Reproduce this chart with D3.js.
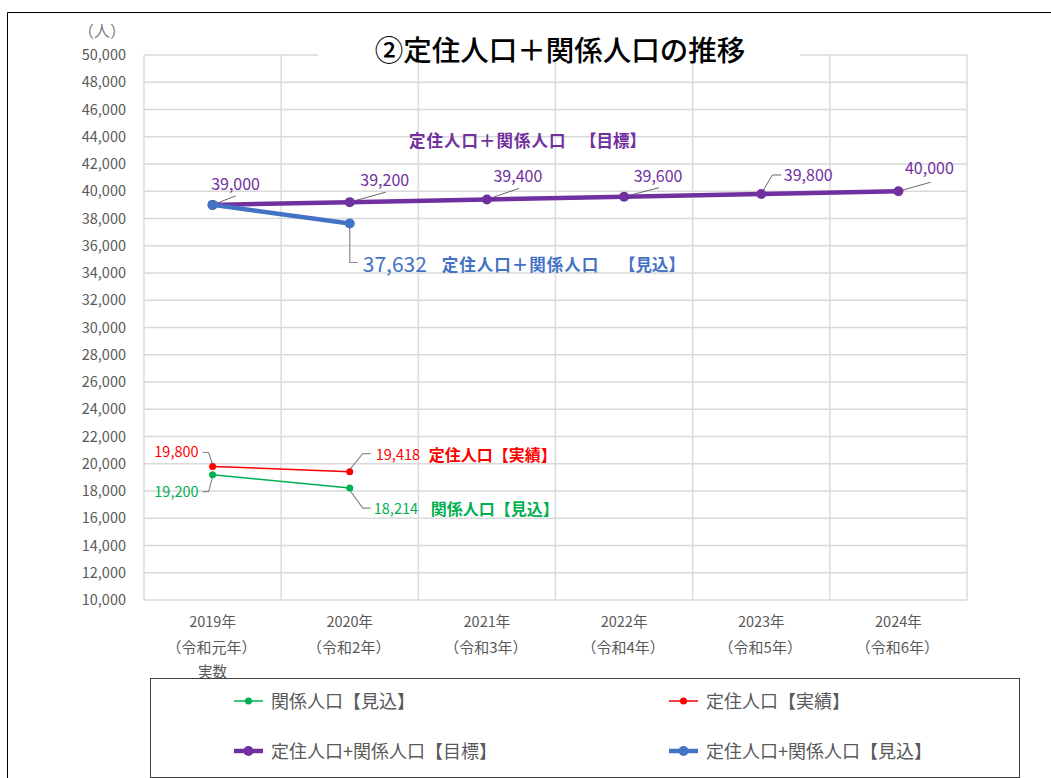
<!DOCTYPE html>
<html>
<head>
<meta charset="utf-8">
<script src="https://cdn.jsdelivr.net/npm/d3@7"></script>
<style>
  body { margin: 0; background: #fff; }
  svg { font-family: "Noto Sans CJK JP", "Noto Sans", sans-serif; }
</style>
</head>
<body>
<svg class="canvas"></svg>
<script>
// Data
const years = ["2019年", "2020年", "2021年", "2022年", "2023年", "2024年"];
const eras = ["（令和元年）", "（令和2年）", "（令和3年）", "（令和4年）", "（令和5年）", "（令和6年）"];
const notes = ["実数", "", "", "", "", ""];
const yTicks = [10000, 12000, 14000, 16000, 18000, 20000, 22000, 24000, 26000, 28000, 30000,
  32000, 34000, 36000, 38000, 40000, 42000, 44000, 46000, 48000, 50000];

const targetTotal = [39000, 39200, 39400, 39600, 39800, 40000];   // 定住人口+関係人口【目標】
const forecastTotal = [39000, 37632];                              // 定住人口+関係人口【見込】
const residentActual = [19800, 19418];                             // 定住人口【実績】
const relatedForecast = [19200, 18214];                            // 関係人口【見込】

const wWidth = 1051, wHeight = 778;
const plot = {left: 144, right: 967, top: 55, bottom: 600};

const svg = d3.select('.canvas').attr('width', wWidth).attr('height', wHeight);

// outer frame
svg.append('path').attr('d', `M7.5,${wHeight} V12.5 H${wWidth}`)
  .attr('fill', 'none').attr('stroke', '#000').attr('stroke-width', 1);

const x = d3.scaleBand().domain(years).range([plot.left, plot.right]);
const y = d3.scaleLinear().domain([10000, 50000]).range([plot.bottom, plot.top]);
const cx = i => x(years[i]) + x.bandwidth() / 2;

// gridlines
const grid = svg.append('g').attr('stroke', '#d9d9d9').attr('stroke-width', 1.4);
grid.selectAll('line.h').data(yTicks).enter().append('line')
  .attr('x1', plot.left).attr('x2', plot.right)
  .attr('y1', d => y(d)).attr('y2', d => y(d));
grid.selectAll('line.v').data(years.concat(['end'])).enter().append('line')
  .attr('x1', (d, i) => plot.left + i * x.bandwidth())
  .attr('x2', (d, i) => plot.left + i * x.bandwidth())
  .attr('y1', plot.top).attr('y2', plot.bottom);

// y axis labels
const yAxis = d3.axisLeft(y).tickValues(yTicks).tickFormat(d3.format(',')).tickSize(0).tickPadding(18);
const yAxisGroup = svg.append('g').attr('transform', `translate(${plot.left}, 0)`).call(yAxis);
yAxisGroup.select('.domain').remove();
yAxisGroup.selectAll('text').attr('fill', '#595959').style('font-size', '14.5px')
  .style('font-family', '"Noto Sans CJK JP", sans-serif');

svg.append('text').attr('x', 102).attr('y', 37).attr('text-anchor', 'middle')
  .attr('fill', '#808080').style('font-size', '16px').text('（人）');

// x axis labels
const xLab = svg.append('g').attr('fill', '#595959').style('font-size', '14.5px').attr('text-anchor', 'middle');
xLab.selectAll('text.yr').data(years).enter().append('text')
  .attr('x', (d, i) => cx(i)).attr('y', 627).text(d => d);
xLab.selectAll('text.era').data(eras).enter().append('text')
  .attr('x', (d, i) => cx(i) - 1).attr('y', 653).style('font-size', '15px').text(d => d);
xLab.selectAll('text.note').data(notes).enter().append('text')
  .attr('x', (d, i) => cx(i)).attr('y', 677).text(d => d);

// title
svg.append('rect').attr('x', 318).attr('y', 30).attr('width', 482).attr('height', 31).attr('fill', '#fff');
svg.append('text').attr('x', 560).attr('y', 61).attr('text-anchor', 'middle')
  .attr('fill', '#000').style('font-size', '28.5px').style('font-weight', 500)
  .text('②定住人口＋関係人口の推移');

// series
const line = d3.line().x((d, i) => cx(i)).y(d => y(d));
const series = [
  {data: targetTotal, color: '#7030a0', width: 4.5, r: 5},
  {data: forecastTotal, color: '#4472c4', width: 4.5, r: 5},
  {data: residentActual, color: '#ff0000', width: 1.5, r: 3.5},
  {data: relatedForecast, color: '#00b050', width: 1.5, r: 3.5}
];
const leaderG = svg.append('g').attr('fill', 'none');
series.forEach(s => {
  svg.append('path').attr('d', line(s.data)).attr('fill', 'none')
    .attr('stroke', s.color).attr('stroke-width', s.width);
  svg.selectAll(null).data(s.data).enter().append('circle')
    .attr('cx', (d, i) => cx(i)).attr('cy', d => y(d)).attr('r', s.r).attr('fill', s.color);
});

// purple data labels: text offset and leader points relative to the marker
const purpleOffsets = [
  {dx: 23, dy: -15, lead: [[0, 0], [23, -9]]},
  {dx: 35, dy: -16, lead: [[0, 0], [36, -10]]},
  {dx: 31, dy: -17, lead: [[0, 0], [32, -11]]},
  {dx: 34, dy: -15, lead: [[0, 0], [35, -9]]},
  {dx: 47, dy: -13, lead: [[0, 0], [11, -19], [20, -19]]},
  {dx: 31, dy: -17, lead: [[0, 0], [32, -9]]}
];
const fmt = d3.format(',');
targetTotal.forEach((v, i) => {
  const o = purpleOffsets[i], px = cx(i), py = y(v);
  leaderG.append('path').attr('d', d3.line()(o.lead.map(p => [px + p[0], py + p[1]])))
    .attr('stroke', '#404040').attr('stroke-width', 0.8);
  svg.append('text').attr('x', px + o.dx).attr('y', py + o.dy).attr('text-anchor', 'middle')
    .attr('fill', '#7030a0').style('font-size', '16px').text(fmt(v));
});

// other labels
const grey = '#8c8c8c';
function leader(pts, px, py) {
  leaderG.append('path').attr('d', d3.line()(pts.map(p => [px + p[0], py + p[1]])))
    .attr('stroke', grey).attr('stroke-width', 1.2);
}
function boldLabel(xPos, yPos, color, main, tag, tagX) {
  svg.append('text').attr('x', xPos).attr('y', yPos).attr('fill', color)
    .style('font-size', '16.5px').style('font-weight', 700).style('letter-spacing', '1px').text(main);
  svg.append('text').attr('x', tagX).attr('y', yPos).attr('fill', color)
    .style('font-size', '16.5px').style('font-weight', 700).text(tag);
}
// blue 37,632
{
  const px = cx(1), py = y(forecastTotal[1]);
  leader([[0, 3], [0, 39], [8, 39]], px, py);
  svg.append('text').attr('x', px + 13).attr('y', py + 48).attr('fill', '#4472c4')
    .style('font-size', '21px').text(fmt(forecastTotal[1]));
  boldLabel(px + 92, py + 47, '#4472c4', '定住人口＋関係人口', '【見込】', 619);
}
boldLabel(409, 147, '#7030a0', '定住人口＋関係人口', '【目標】', 580);

// red
{
  const p0x = cx(0), p0y = y(residentActual[0]);
  leader([[-10, -14], [-4, -14], [0, -2]], p0x, p0y);
  svg.append('text').attr('x', p0x - 14).attr('y', p0y - 9).attr('text-anchor', 'end')
    .attr('fill', '#ff0000').style('font-size', '14.5px').text(fmt(residentActual[0]));
  const p1x = cx(1), p1y = y(residentActual[1]);
  leader([[0, -2], [13, -18], [21, -18]], p1x, p1y);
  svg.append('text').attr('x', p1x + 26).attr('y', p1y - 12)
    .attr('fill', '#ff0000').style('font-size', '14.5px').text(fmt(residentActual[1]));
  svg.append('text').attr('x', p1x + 79).attr('y', p1y - 11)
    .attr('fill', '#ff0000').style('font-size', '16px').style('font-weight', 700).text('定住人口【実績】');
}
// green
{
  const p0x = cx(0), p0y = y(relatedForecast[0]);
  leader([[-10, 17], [-4, 17], [0, 2]], p0x, p0y);
  svg.append('text').attr('x', p0x - 14).attr('y', p0y + 22).attr('text-anchor', 'end')
    .attr('fill', '#00b050').style('font-size', '14.5px').text(fmt(relatedForecast[0]));
  const p1x = cx(1), p1y = y(relatedForecast[1]);
  leader([[0, 2], [13, 20], [21, 20]], p1x, p1y);
  svg.append('text').attr('x', p1x + 24).attr('y', p1y + 26)
    .attr('fill', '#00b050').style('font-size', '14.5px').text(fmt(relatedForecast[1]));
  svg.append('text').attr('x', p1x + 81).attr('y', p1y + 27)
    .attr('fill', '#00b050').style('font-size', '16px').style('font-weight', 700).text('関係人口【見込】');
}

// legend
svg.append('rect').attr('x', 150.5).attr('y', 678.5).attr('width', 869).attr('height', 99)
  .attr('fill', '#fff').attr('stroke', '#404040').attr('stroke-width', 1);
const legendItems = [
  {name: '関係人口【見込】', color: '#00b050', width: 1.5, r: 3.5, x: 234, y: 701},
  {name: '定住人口【実績】', color: '#ff0000', width: 1.5, r: 3.5, x: 669, y: 701},
  {name: '定住人口+関係人口【目標】', color: '#7030a0', width: 4.5, r: 5, x: 234, y: 751},
  {name: '定住人口+関係人口【見込】', color: '#4472c4', width: 4.5, r: 5, x: 669, y: 751}
];
const lg = svg.selectAll('g.legend').data(legendItems).enter().append('g')
  .attr('transform', d => `translate(${d.x}, ${d.y})`);
lg.append('line').attr('x1', 0).attr('x2', 29).attr('stroke', d => d.color).attr('stroke-width', d => d.width);
lg.append('circle').attr('cx', 14.5).attr('r', d => d.r).attr('fill', d => d.color);
lg.append('text').attr('x', 37).attr('y', 6.5).attr('fill', '#595959').style('font-size', '18px').text(d => d.name);
</script>
</body>
</html>
